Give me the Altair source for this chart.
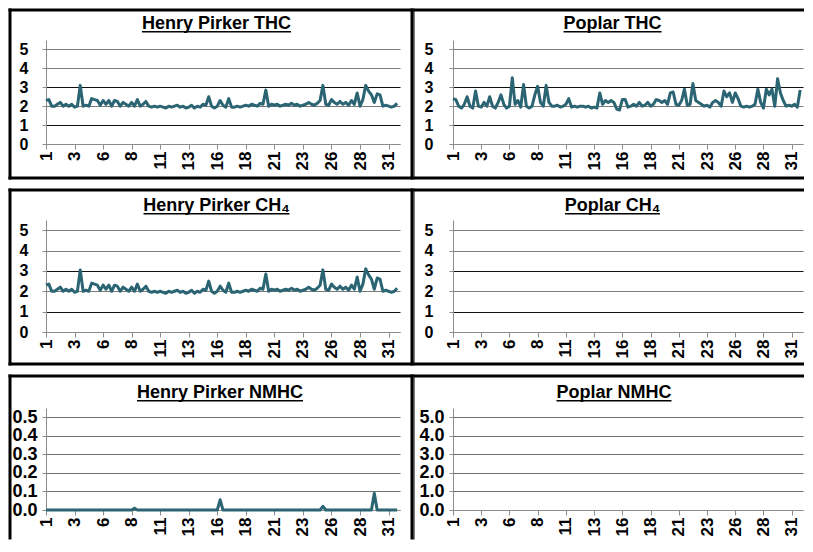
import json
import altair as alt
import pandas as pd

# ---------------- data (6-hourly readings, ppm) ----------------
DAYS = 31
day_hours = [0, 6, 12, 18]
tick_hours = [0, 60, 120, 180, 240, 300, 360, 420, 480, 540, 600, 660, 720]
tick_labels = ["1", "3", "6", "8", "11", "13", "16", "18", "21", "23", "26", "28", "31"]

henry_thc = [
    2.30, 2.35, 2.00, 2.00,  2.10, 2.20, 2.00, 2.10,  2.00, 2.10, 1.95, 2.00,
    3.10, 2.00, 2.05, 2.00,  2.40, 2.35, 2.30, 2.05,  2.30, 2.10, 2.30, 2.00,
    2.30, 2.25, 2.00, 2.20,  2.10, 2.00, 2.20, 2.00,  2.35, 2.00, 2.10, 2.25,
    2.00, 1.95, 2.00, 1.95,  2.00, 1.95, 1.90, 2.00,  1.95, 2.00, 2.05, 1.95,
    2.00, 1.90, 1.95, 2.05,  1.90, 2.00, 1.95, 2.10,  2.05, 2.50, 2.00, 1.90,
    2.00, 2.30, 2.05, 1.95,  2.40, 1.95, 1.95, 2.00,  1.95, 2.00, 2.05, 2.00,
    2.10, 2.05, 2.00, 2.15,  2.10, 2.85, 2.00, 2.10,  2.05, 2.10, 2.00, 2.05,
    2.10, 2.05, 2.15, 2.05,  2.10, 2.00, 2.05, 2.10,  2.20, 2.10, 2.05, 2.15,
    2.30, 3.10, 2.10, 2.05,  2.35, 2.20, 2.10, 2.25,  2.10, 2.20, 2.05, 2.30,
    2.10, 2.70, 2.00, 2.35,  3.10, 2.80, 2.60, 2.20,  2.65, 2.60, 2.00, 2.05,
    2.00, 1.95, 2.00, 2.15,
]

henry_ch4 = [
    2.30, 2.35, 2.00, 2.00,  2.10, 2.20, 2.00, 2.10,  2.00, 2.10, 1.95, 2.00,
    3.05, 2.00, 2.05, 2.00,  2.40, 2.35, 2.30, 2.05,  2.30, 2.10, 2.30, 2.00,
    2.30, 2.25, 2.00, 2.20,  2.10, 2.00, 2.20, 2.00,  2.35, 2.00, 2.10, 2.25,
    2.00, 1.95, 2.00, 1.95,  2.00, 1.95, 1.90, 2.00,  1.95, 2.00, 2.05, 1.95,
    2.00, 1.90, 1.95, 2.05,  1.90, 2.00, 1.95, 2.10,  2.05, 2.50, 2.00, 1.90,
    2.00, 2.25, 2.05, 1.95,  2.40, 1.95, 1.95, 2.00,  1.95, 2.00, 2.05, 2.00,
    2.10, 2.05, 2.00, 2.15,  2.10, 2.85, 2.00, 2.10,  2.05, 2.10, 2.00, 2.05,
    2.10, 2.05, 2.15, 2.05,  2.10, 2.00, 2.05, 2.10,  2.20, 2.10, 2.05, 2.15,
    2.30, 3.05, 2.10, 2.05,  2.35, 2.20, 2.10, 2.25,  2.10, 2.20, 2.05, 2.30,
    2.10, 2.70, 2.00, 2.35,  3.10, 2.80, 2.60, 2.10,  2.65, 2.60, 2.00, 2.05,
    2.00, 1.95, 2.00, 2.15,
]

henry_nmhc = [
    0, 0, 0, 0,  0, 0, 0, 0,  0, 0, 0, 0,  0, 0, 0, 0,  0, 0, 0, 0,  0, 0, 0, 0,
    0, 0, 0, 0,  0, 0, 0, 0.01,  0, 0, 0, 0,  0, 0, 0, 0,  0, 0, 0, 0,  0, 0, 0, 0,
    0, 0, 0, 0,  0, 0, 0, 0,  0, 0, 0, 0,  0, 0.055, 0, 0,  0, 0, 0, 0,  0, 0, 0, 0,
    0, 0, 0, 0,  0, 0, 0, 0,  0, 0, 0, 0,  0, 0, 0, 0,  0, 0, 0, 0,  0, 0, 0, 0,
    0, 0.02, 0, 0,  0, 0, 0, 0,  0, 0, 0, 0,  0, 0, 0, 0,  0, 0, 0, 0.09,  0, 0, 0, 0,
    0, 0, 0, 0,
]

poplar_thc = [
    2.40, 2.35, 2.00, 1.90,  2.10, 2.50, 2.00, 1.90,  2.80, 2.00, 1.95, 2.20,
    2.00, 2.50, 2.00, 1.90,  2.20, 2.60, 2.10, 1.90,  2.00, 3.50, 2.10, 2.30,
    1.95, 3.15, 2.00, 1.90,  2.00, 2.60, 3.05, 2.20,  2.00, 3.10, 2.20, 2.00,
    2.00, 2.05, 1.95, 2.00,  2.10, 2.40, 1.95, 2.00,  1.95, 2.00, 2.00, 1.95,
    2.00, 1.90, 1.95, 1.90,  2.70, 2.10, 2.30, 2.20,  2.30, 2.20, 1.85, 1.80,
    2.35, 2.35, 1.95, 2.00,  2.10, 2.00, 2.20, 2.00,  2.05, 2.20, 2.00, 2.10,
    2.35, 2.30, 2.20, 2.30,  2.10, 2.70, 2.75, 2.10,  2.05, 2.30, 2.90, 2.05,
    2.10, 3.20, 2.30, 2.20,  2.10, 2.00, 2.05, 1.95,  2.20, 2.30, 2.20, 2.00,
    2.80, 2.50, 2.70, 2.20,  2.70, 2.40, 2.00, 1.95,  2.00, 1.95, 2.00, 2.10,
    2.90, 2.20, 1.90, 2.90,  2.60, 2.90, 2.00, 3.45,  2.70, 2.30, 2.00, 2.05,
    2.00, 2.10, 1.95, 2.85,
]

poplar_ch4 = []
poplar_nmhc = []

# ---------------- styling ----------------
FONT = "Liberation Sans, Arial, sans-serif"
LINE_COLOR = "#2B6473"
TITLE_FS = 18
CHAR_W = {"H": .722, "e": .556, "n": .611, "r": .389, "y": .556, " ": .278, "P": .667,
          "i": .278, "k": .556, "T": .611, "C": .722, "o": .611, "p": .611, "l": .278,
          "a": .556, "N": .722, "M": .833, "\u2084": .44}

label_expr = f"{json.dumps(tick_labels)}[indexof({json.dumps(tick_hours)}, datum.value)]"
one_row = alt.Data(values=[{"k": 1}])

GRID_MIXED = alt.condition("datum.value == 1 || datum.value == 3",
                           alt.value("#111111"), alt.value("#7a7a7a"))
GRID_PLAIN = "#6e6e6e"


def hours_for(series):
    return [d * 24 + h for d in range(DAYS) for h in day_hours][:len(series)]


def bar(x1, x2, y1, y2):
    """Filled black bar (border piece), in pixel coordinates of the panel."""
    return alt.Chart(one_row).mark_rect(color="black").encode(
        x=alt.value(x1), x2=alt.value(x2), y=alt.value(y1), y2=alt.value(y2))


def panel(series, title, w, h, ydom, yvals, yfmt, yfs, ypad, grid_color, bl, br, bt, bb,
          tx, ty, left_w, right_border, bottom_border):
    df = pd.DataFrame({"hour": [float(v) for v in hours_for(series)],
                       "value": [float(v) for v in series]})
    x = alt.X("hour:Q", scale=alt.Scale(domain=[0, 744], nice=False, zero=False),
              axis=alt.Axis(title=None, values=tick_hours, labelExpr=label_expr,
                            labelAngle=-90, labelAlign="right", labelBaseline="middle",
                            labelFontSize=17, labelPadding=2, labelFlush=False,
                            labelOverlap=False, tickSize=5, grid=False))
    y = alt.Y("value:Q", scale=alt.Scale(domain=ydom, nice=False, zero=False),
              axis=alt.Axis(title=None, values=yvals, format=yfmt, labelFontSize=yfs,
                            labelPadding=ypad, tickSize=4, grid=True, labelFlush=False,
                            labelOverlap=False, gridColor=grid_color))
    line = alt.Chart(df).mark_line(color=LINE_COLOR, strokeWidth=3,
                                   strokeJoin="round").encode(x=x, y=y)

    tw = sum(CHAR_W.get(c, .6) for c in title) * TITLE_FS
    ttl = alt.Chart(one_row).mark_text(
        text=title, font=FONT, fontSize=TITLE_FS, fontWeight="bold", color="black",
        align="center", baseline="alphabetic").encode(x=alt.value(tx), y=alt.value(ty))
    underline = bar(tx - tw / 2, tx + tw / 2, ty + 2, ty + 3.5)

    T = 3.0
    lw = left_w / 2
    right_end = br + T / 2 if right_border else w + 1
    layers = [line, ttl, underline,
              bar(bl - lw, right_end, bt - T / 2, bt + T / 2),          # top
              bar(bl - lw, bl + lw, bt - T / 2, bb + T / 2)]            # left
    if right_border:
        layers.append(bar(br - T / 2, br + T / 2, bt - T / 2, bb + T / 2))
    if bottom_border:
        layers.append(bar(bl - lw, right_end, bb - T / 2, bb + T / 2))
    return alt.layer(*layers).properties(width=w, height=h)


Y5 = dict(ydom=[0, 5.5], yvals=[0, 1, 2, 3, 4, 5], yfmt="d", yfs=16, grid_color=GRID_MIXED)
ROW1 = dict(h=104, bt=-30, bb=138, ty=-11, bottom_border=True)
ROW2 = dict(h=112, bt=-30, bb=144, ty=-9, bottom_border=True)
ROW3 = dict(h=102, bt=-32, bb=130, ty=-10, bottom_border=False)
LEFT = dict(w=354, bl=-36, br=366, left_w=3, right_border=True)
RIGHT = dict(w=350, bl=-39, br=350, left_w=1, right_border=False)

p11 = panel(henry_thc, "Henry Pirker THC", tx=170.5, ypad=14, **Y5, **ROW1, **LEFT)
p12 = panel(poplar_thc, "Poplar THC", tx=159.5, ypad=16, **Y5, **ROW1, **RIGHT)
p21 = panel(henry_ch4, "Henry Pirker CH\u2084", tx=170.5, ypad=14, **Y5, **ROW2, **LEFT)
p22 = panel(poplar_ch4, "Poplar CH\u2084", tx=159.5, ypad=16, **Y5, **ROW2, **RIGHT)
p31 = panel(henry_nmhc, "Henry Pirker NMHC", ydom=[0, 0.55],
            yvals=[0, 0.1, 0.2, 0.3, 0.4, 0.5], yfmt=".1f", yfs=18, ypad=5,
            grid_color=GRID_PLAIN, tx=174, **ROW3, **LEFT)
p32 = panel(poplar_nmhc, "Poplar NMHC", ydom=[0, 5.5], yvals=[0, 1, 2, 3, 4, 5],
            yfmt=".1f", yfs=18, ypad=5, grid_color=GRID_PLAIN, tx=161, **ROW3, **RIGHT)

chart = (
    alt.concat(p11, p12, p21, p22, p31, p32, columns=2,
               spacing={"row": 76, "column": 53}, bounds="flush")
    .properties(padding=0, background="white")
    .configure_view(strokeWidth=0)
    .configure_axis(labelFont=FONT, labelFontWeight="bold", labelColor="black",
                    domainColor="#8c8c8c", tickColor="#8c8c8c",
                    gridWidth=1, domainWidth=1)
)

chart.save("out.html", embed_options={"renderer": "svg", "actions": False})
